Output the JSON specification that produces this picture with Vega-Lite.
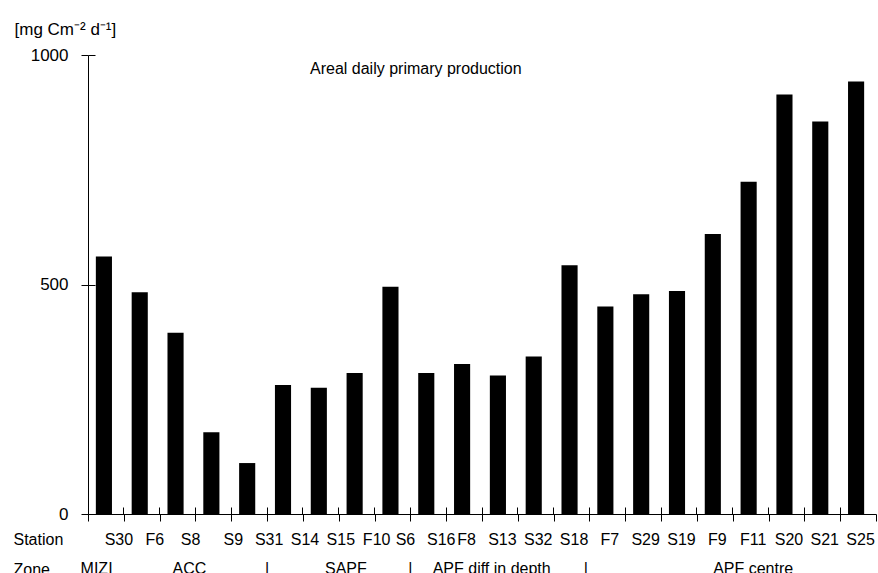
{
  "$schema": "https://vega.github.io/schema/vega-lite/v6.json",
  "width": 788,
  "height": 459,
  "autosize": {"type": "none"},
  "padding": {"left": 88, "top": 55, "right": 2, "bottom": 59},
  "background": "white",
  "config": {
    "view": {"stroke": null},
    "font": "Liberation Sans",
    "axis": {"domainColor": "black", "tickColor": "black", "labelColor": "black", "titleColor": "black", "grid": false, "labelFont": "Liberation Sans", "titleFont": "Liberation Sans", "domainWidth": 1, "tickWidth": 1}
  },
  "title": {"text": "Areal daily primary production", "anchor": "start", "frame": "group", "dx": 222, "offset": -70, "baseline": "alphabetic", "fontSize": 16, "fontWeight": "normal", "font": "Liberation Sans", "color": "black"},
  "datasets": {
    "stations": [
      {"station": "S30", "production": 561},
      {"station": "F6", "production": 483},
      {"station": "S8", "production": 395},
      {"station": "S9", "production": 178},
      {"station": "S31", "production": 111},
      {"station": "S14", "production": 281},
      {"station": "S15", "production": 275},
      {"station": "F10", "production": 307},
      {"station": "S6", "production": 495},
      {"station": "S16", "production": 307},
      {"station": "F8", "production": 327},
      {"station": "S13", "production": 302},
      {"station": "S32", "production": 343},
      {"station": "S18", "production": 542},
      {"station": "F7", "production": 452},
      {"station": "S29", "production": 479},
      {"station": "S19", "production": 486},
      {"station": "F9", "production": 610},
      {"station": "F11", "production": 724},
      {"station": "S20", "production": 914},
      {"station": "S21", "production": 855},
      {"station": "S25", "production": 942}
    ],
    "zones": [
      {"zone": "MIZI", "pos": 0.24},
      {"zone": "ACC", "pos": 2.83},
      {"zone": "|", "pos": 5.0},
      {"zone": "SAPF", "pos": 7.2},
      {"zone": "|", "pos": 9.0},
      {"zone": "APF diff in depth", "pos": 11.27},
      {"zone": "|", "pos": 13.9},
      {"zone": "APF centre", "pos": 18.57}
    ]
  },
  "layer": [
    {
      "data": {"name": "stations"},
      "mark": {"type": "bar", "color": "black", "width": {"band": 0.45}, "xOffset": -2},
      "encoding": {
        "x": {"field": "station", "type": "nominal", "sort": null,
          "scale": {"paddingInner": 0, "paddingOuter": 0},
          "axis": {"title": "Station", "titleX": -75, "titleY": 30, "titleAlign": "left", "titleAnchor": "start", "titleBaseline": "alphabetic", "titleFontSize": 16, "titleFontWeight": "normal",
            "ticks": true, "tickSize": -7, "bandPosition": 0, "labelAngle": 0, "labelFontSize": 16, "labelBaseline": "alphabetic", "labelPadding": 37,
            "labelOffset": {"condition": [
              {"test": "indexof(['S9','S31','S14','S15','F10'], datum.value) >= 0", "value": 20},
              {"test": "indexof(['S30','F6','S8','S6','S16'], datum.value) >= 0", "value": 13}
            ], "value": 2.5}}},
        "y": {"field": "production", "type": "quantitative",
          "scale": {"domain": [0, 1000], "nice": false},
          "axis": {"title": "[mg Cm⁻² d⁻¹]", "titleAngle": 0, "titleAlign": "left", "titleAnchor": "start", "titleBaseline": "alphabetic", "titleX": -74, "titleY": -21, "titleFontSize": 17, "titleFontWeight": "normal",
            "values": [0, 500, 1000], "format": "d", "ticks": true, "tickSize": 7, "labelFontSize": 17, "labelPadding": 13}}
      }
    },
    {
      "data": {"name": "stations"},
      "mark": {"type": "bar", "opacity": 0, "width": {"band": 0.45}},
      "encoding": {
        "x": {"field": "station", "type": "nominal", "sort": null,
          "scale": {"paddingInner": 0, "paddingOuter": 0}, "axis": null},
        "y": {"field": "production", "type": "quantitative",
          "axis": {"orient": "left", "tickSize": -7, "labels": false, "domain": false, "title": null, "values": [0, 500, 1000]}}
      }
    },
    {
      "data": {"name": "zones"},
      "mark": {"type": "text", "fontSize": 16, "baseline": "alphabetic", "align": "center", "dy": 60, "color": "black", "font": "Liberation Sans"},
      "encoding": {
        "x": {"field": "pos", "type": "quantitative",
          "scale": {"domain": [0, 22], "nice": false, "zero": false},
          "axis": {"orient": "bottom", "tickSize": 7, "labels": false, "domain": false,
            "values": [0,1,2,3,4,5,6,7,8,9,10,11,12,13,14,15,16,17,18,19,20,21,22],
            "title": "Zone", "titleX": -75, "titleY": 60, "titleAlign": "left", "titleAnchor": "start", "titleBaseline": "alphabetic", "titleFontSize": 16, "titleFontWeight": "normal"}},
        "y": {"datum": 0, "type": "quantitative", "axis": null},
        "text": {"field": "zone"}
      }
    }
  ],
  "resolve": {"scale": {"x": "independent"}, "axis": {"x": "independent", "y": "independent"}}
}
